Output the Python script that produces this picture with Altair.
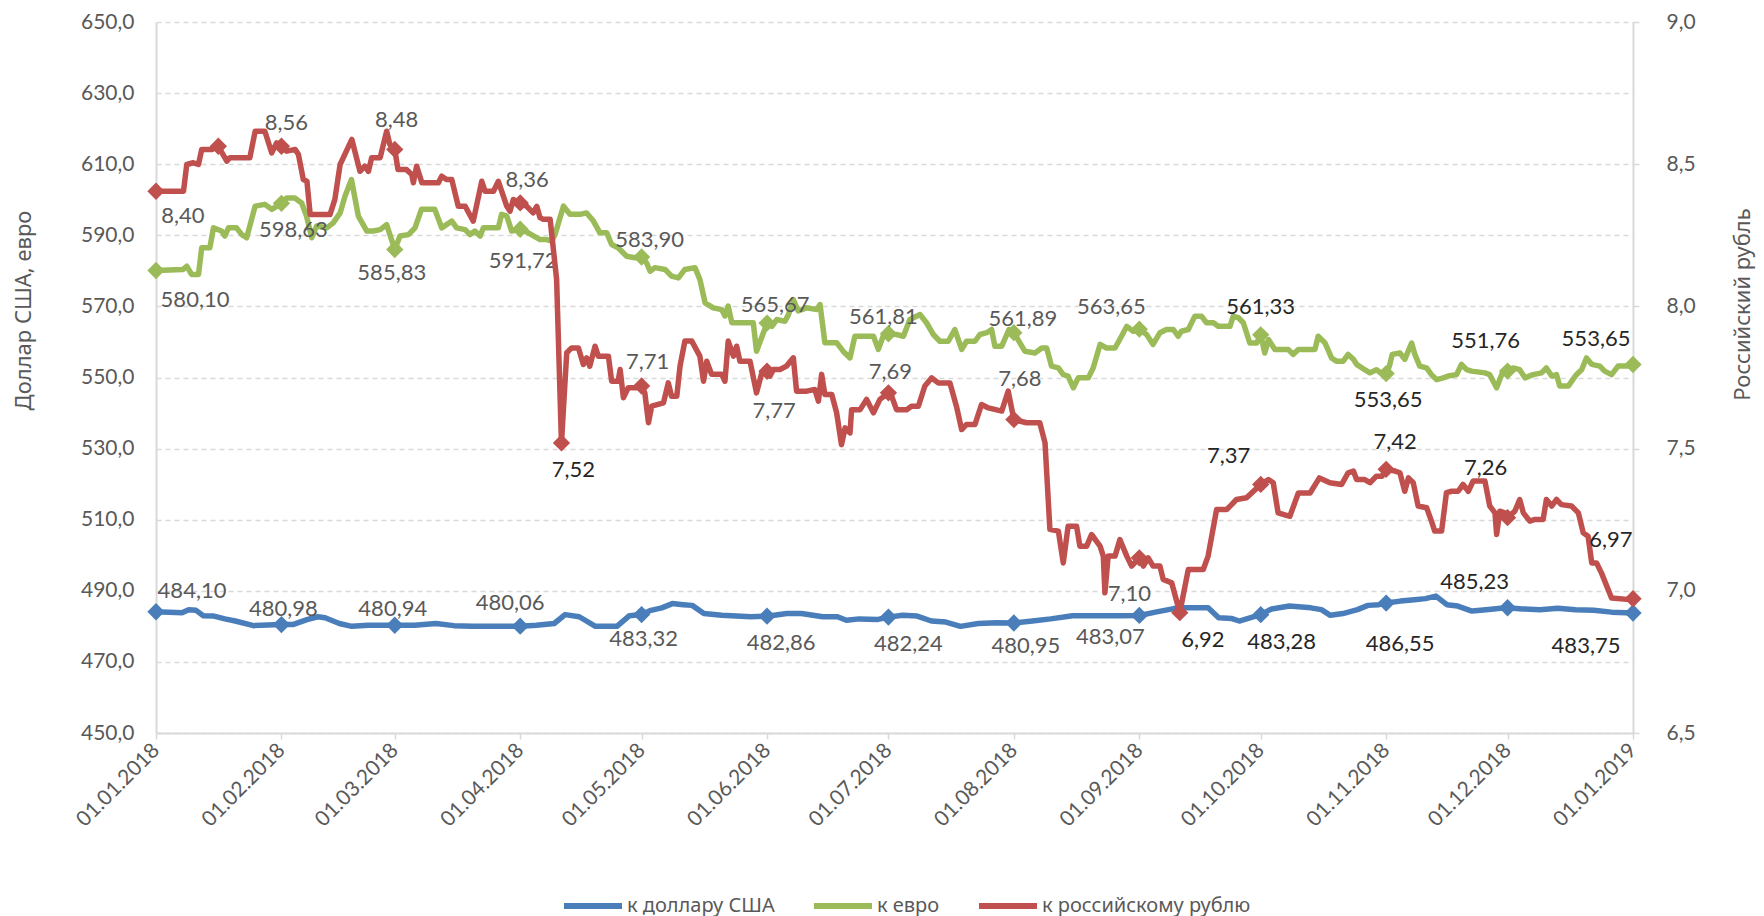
import altair as alt
import pandas as pd

# ---------------- data (day offsets from 01.01.2018) ----------------
series_names = ["к доллару США", "к евро", "к российскому рублю"]

usd_days = [0, 6.4, 8.1, 9.9, 11.7, 14.3, 17.0, 19.6, 24.1, 31, 33.8, 37.3, 40.0, 41.8, 45.3, 48.4, 52.4,
            59, 63.9, 69.2, 73.6, 78.1, 84.3, 90, 94.0, 98.4, 101.1, 104.6, 108.6, 113.9, 117.0, 120,
            122.3, 125.0, 127.6, 130.3, 132.5, 135.4, 139.8, 147.0, 151, 155.9, 159.5, 164.8, 168.4,
            170.6, 173.8, 178.2, 181, 184.5, 188.1, 191.6, 195.2, 198.8, 203.2, 207.7, 212, 216.6,
            221.1, 226.5, 231.8, 238.1, 243, 247.0, 251.5, 254.1, 260.0, 262.6, 265.9, 267.7, 269.5,
            273, 275.7, 280.1, 285.4, 288.0, 290.2, 293.3, 296.9, 299.5, 302.2, 304, 307.5, 311.0,
            313.7, 316.3, 319.0, 321.7, 325.2, 328.7, 332.3, 334, 337.6, 342.0, 346.4, 350.8, 355.3,
            359.7, 365]
usd_vals = [484.1, 483.8, 484.7, 484.5, 483.0, 482.9, 482.1, 481.5, 480.2, 480.5, 480.5, 481.9, 482.7,
            482.4, 480.8, 480.0, 480.3, 480.3, 480.3, 480.8, 480.2, 480.0, 480.0, 480.06, 480.3, 480.8,
            483.3, 482.7, 480.0, 480.0, 483.0, 483.32, 484.5, 485.2, 486.4, 486.1, 485.9, 483.6, 483.1,
            482.7, 482.86, 483.6, 483.6, 482.7, 482.7, 481.7, 482.1, 481.9, 482.6, 483.1, 482.9, 481.5,
            481.2, 480.0, 480.8, 481.0, 480.95, 481.5, 482.1, 483.0, 483.0, 483.0, 483.07, 484.0, 485.0,
            485.2, 485.2, 482.4, 482.2, 481.5, 482.1, 483.28, 484.9, 485.7, 485.2, 484.7, 483.1, 483.6,
            484.7, 485.9, 486.1, 486.55, 487.1, 487.5, 487.8, 488.5, 486.1, 485.7, 484.3, 484.7, 485.1,
            485.23, 484.9, 484.7, 485.1, 484.7, 484.5, 484.0, 483.75]

eur_days = [0, 6.7, 7.6, 8.8, 10.5, 11.3, 13.3, 14.2, 16.2, 17.0, 17.9, 19.9, 21.2, 22.4, 24.5, 26.9,
            28.6, 31, 32.3, 34.3, 36.0, 37.2, 38.5, 39.7, 42.2, 43.8, 45.5, 46.7, 48.3, 50.0, 52.1,
            53.7, 55.4, 57.0, 58.2, 59, 60.3, 62.4, 64.0, 65.6, 68.9, 70.6, 71.8, 73.1, 74.3, 76.4,
            77.6, 78.8, 80.1, 80.9, 84.6, 85.4, 86.7, 87.9, 90, 92.0, 94.9, 96.5, 97.8, 98.6, 100.7,
            102.3, 104.8, 106.4, 108.1, 109.7, 111.4, 112.6, 114.2, 116.3, 118.4, 120, 121.2, 122.1,
            123.3, 125.8, 127.4, 129.1, 130.7, 133.2, 134.4, 135.7, 137.7, 139.8, 140.6, 141.4, 142.3,
            147.6, 148.4, 151, 152.2, 153.4, 155.4, 156.3, 157.5, 158.7, 160.8, 163.3, 164.1, 165.3,
            168.2, 169.8, 171.5, 172.7, 177.3, 178.5, 179.7, 181, 183.0, 184.7, 186.3, 188.8, 190.4,
            192.1, 193.7, 195.8, 197.4, 199.1, 200.3, 202.4, 203.6, 205.3, 206.5, 207.3, 209.0, 210.8,
            212, 214.7, 217.2, 218.9, 220.1, 221.3, 223.0, 224.2, 225.4, 226.7, 227.9, 230.4, 231.6,
            233.3, 234.9, 237.0, 238.6, 239.9, 241.5, 243, 244.8, 246.4, 248.1, 249.7, 251.4, 252.6,
            253.4, 255.1, 256.7, 258.4, 259.6, 261.3, 262.5, 265.4, 266.2, 267.5, 268.7, 270.3, 272.0,
            273, 274.0, 274.9, 276.5, 279.8, 281.0, 282.3, 286.4, 287.2, 288.9, 290.5, 291.7, 293.4,
            294.6, 295.9, 296.7, 298.7, 300.0, 301.6, 303.3, 304, 304.8, 305.5, 307.4, 308.6, 310.3,
            311.1, 312.3, 314.0, 315.2, 316.5, 318.1, 319.3, 321.4, 322.6, 323.9, 325.1, 328.4, 329.6,
            331.3, 332.9, 334, 335.4, 337.0, 338.3, 340.3, 342.4, 343.6, 344.9, 346.1, 346.9, 349.0,
            351.0, 352.3, 353.5, 354.8, 356.8, 358.0, 359.7, 361.3, 364.2, 365]
eur_vals = [580.1, 580.4, 581.3, 579.0, 579.0, 586.5, 586.5, 592.1, 591.2, 589.8, 592.1, 592.1, 590.2,
            589.3, 598.2, 598.7, 597.3, 599.0, 600.5, 600.5, 599.1, 595.4, 589.3, 592.6, 592.1, 593.5,
            596.3, 601.0, 605.7, 595.4, 591.2, 591.2, 591.6, 593.0, 588.8, 586.0, 589.8, 590.2, 592.1,
            597.3, 597.3, 592.1, 593.0, 594.0, 592.1, 591.6, 590.2, 591.2, 589.8, 592.1, 592.1, 595.9,
            595.4, 591.2, 591.7, 590.7, 588.8, 588.8, 588.4, 590.2, 598.2, 595.9, 595.9, 596.3, 594.0,
            590.7, 590.7, 587.4, 586.5, 584.1, 583.7, 583.9, 582.3, 579.9, 580.9, 580.4, 578.5, 578.0,
            580.4, 580.9, 577.6, 571.0, 569.6, 569.1, 567.3, 570.1, 565.4, 565.4, 557.4, 565.3, 564.4,
            566.3, 565.8, 567.7, 571.9, 568.7, 569.6, 569.1, 570.5, 559.8, 559.8, 557.4, 555.5, 561.6,
            561.6, 557.9, 561.6, 562.3, 562.1, 561.6, 566.3, 567.7, 565.4, 562.1, 560.2, 560.2, 563.5,
            557.9, 560.2, 560.2, 562.1, 562.6, 563.5, 558.8, 558.8, 563.5, 562.6, 557.4, 556.9, 558.3,
            558.3, 553.2, 552.7, 550.8, 550.4, 547.1, 549.9, 549.9, 552.7, 559.3, 558.3, 558.3, 561.6,
            564.4, 563.0, 563.6, 562.1, 559.3, 562.6, 563.5, 563.5, 561.6, 563.0, 563.5, 567.2, 567.2,
            565.4, 565.4, 564.4, 564.4, 567.2, 566.8, 565.4, 559.7, 559.7, 562.0, 556.9, 560.7, 557.9,
            557.9, 556.5, 557.9, 557.9, 561.6, 559.7, 555.5, 554.6, 554.6, 556.5, 555.1, 553.7, 552.2,
            551.3, 552.2, 550.8, 551.1, 553.2, 556.5, 556.9, 555.1, 559.7, 556.5, 553.2, 552.7, 550.8,
            549.4, 549.9, 550.4, 550.8, 553.7, 552.2, 551.8, 551.3, 550.8, 547.1, 551.8, 551.8, 552.7,
            552.2, 549.9, 550.8, 551.3, 552.7, 550.4, 550.8, 547.6, 547.6, 550.8, 552.2, 555.5, 553.7,
            553.2, 551.8, 550.8, 553.2, 553.2, 553.65]

rub_days = [0, 6.8, 7.6, 9.2, 10.5, 11.3, 13.8, 15.4, 17.5, 18.3, 23.2, 24.5, 26.9, 28.6, 29.8, 31,
            32.3, 34.4, 35.2, 36.4, 37.3, 38.1, 43.0, 44.2, 45.5, 48.4, 50.4, 51.6, 52.5, 53.3, 55.4,
            57.0, 57.8, 59, 59.8, 61.9, 63.2, 63.6, 64.4, 65.7, 69.8, 70.6, 71.8, 73.1, 74.7, 76.4,
            78.4, 80.5, 81.3, 83.4, 84.6, 86.7, 87.5, 88.3, 90, 91.6, 93.2, 94.1, 94.9, 95.7, 97.4,
            99.0, 100.2, 101.5, 102.7, 104.4, 105.6, 106.4, 107.2, 108.5, 109.3, 111.8, 112.6, 114.2,
            114.7, 115.5, 116.7, 118.8, 120, 120.8, 121.7, 122.5, 125.4, 126.6, 127.4, 128.7, 129.5,
            130.7, 132.4, 134.4, 135.3, 136.1, 137.3, 139.8, 140.6, 141.4, 142.7, 143.5, 144.3, 146.8,
            148.4, 149.7, 151, 151.7, 152.6, 154.2, 155.8, 157.5, 158.3, 160.8, 162.8, 163.7, 164.5,
            165.3, 167.0, 168.2, 169.4, 170.3, 171.5, 171.9, 174.0, 175.6, 177.3, 178.9, 181, 181.8,
            183.0, 185.5, 186.7, 188.4, 190.0, 191.7, 193.3, 196.2, 197.8, 199.1, 200.3, 202.4, 204.0,
            205.7, 209.0, 210.6, 212, 215.1, 218.4, 219.7, 220.9, 223.0, 224.2, 225.4, 227.5, 228.3,
            230.0, 231.2, 233.3, 234.1, 234.5, 235.3, 237.0, 238.2, 239.9, 241.1, 243, 244.0, 245.2,
            246.4, 248.1, 248.9, 251.0, 253, 255.1, 258.8, 260.0, 262.1, 264.6, 265.8, 267.0, 269.5,
            273, 274.9, 276.1, 277.3, 280.2, 282.3, 285.2, 287.5, 290.1, 293.0, 294.6, 295.9, 296.7,
            298.7, 300.0, 301.6, 303.0, 304, 306.2, 307.4, 308.6, 309.5, 310.7, 311.9, 314.0, 315.2,
            316.0, 317.7, 318.9, 320.2, 321.8, 323.0, 324.3, 325.5, 328.4, 329.6, 330.9, 331.3, 332.1,
            333.3, 334, 335.8, 337.0, 337.9, 339.5, 340.8, 342.8, 343.6, 344.9, 346.1, 347.3, 349.8,
            351.5, 352.7, 353.9, 354.8, 356.0, 357.2, 359.7, 364.2, 365]
rub_vals = [8.405, 8.405, 8.499, 8.505, 8.499, 8.552, 8.552, 8.563, 8.511, 8.523, 8.523, 8.616, 8.616,
            8.540, 8.575, 8.563, 8.546, 8.552, 8.534, 8.446, 8.440, 8.323, 8.323, 8.376, 8.499, 8.587,
            8.475, 8.493, 8.475, 8.523, 8.523, 8.616, 8.569, 8.552, 8.481, 8.481, 8.464, 8.435, 8.493,
            8.435, 8.435, 8.458, 8.446, 8.446, 8.352, 8.352, 8.300, 8.440, 8.405, 8.405, 8.440, 8.352,
            8.335, 8.376, 8.364, 8.352, 8.329, 8.352, 8.312, 8.306, 8.306, 8.095, 7.520, 7.837, 7.854,
            7.854, 7.796, 7.819, 7.790, 7.860, 7.825, 7.825, 7.737, 7.737, 7.778, 7.679, 7.714, 7.714,
            7.720, 7.696, 7.591, 7.649, 7.661, 7.731, 7.684, 7.684, 7.790, 7.878, 7.878, 7.825, 7.737,
            7.807, 7.761, 7.761, 7.737, 7.878, 7.825, 7.860, 7.807, 7.807, 7.696, 7.766, 7.772, 7.755,
            7.778, 7.778, 7.790, 7.819, 7.702, 7.702, 7.708, 7.667, 7.761, 7.690, 7.690, 7.626, 7.514,
            7.573, 7.555, 7.637, 7.637, 7.673, 7.626, 7.673, 7.696, 7.684, 7.637, 7.637, 7.649, 7.649,
            7.720, 7.749, 7.731, 7.731, 7.649, 7.567, 7.585, 7.585, 7.655, 7.643, 7.632, 7.702, 7.602,
            7.591, 7.591, 7.520, 7.216, 7.210, 7.098, 7.227, 7.227, 7.157, 7.157, 7.198, 7.157, 7.122,
            6.993, 7.122, 7.122, 7.180, 7.122, 7.087, 7.116, 7.087, 7.116, 7.087, 7.087, 7.040, 7.028,
            6.923, 7.075, 7.075, 7.122, 7.286, 7.286, 7.303, 7.321, 7.327, 7.374, 7.391, 7.380, 7.274,
            7.262, 7.344, 7.344, 7.397, 7.380, 7.374, 7.415, 7.421, 7.391, 7.391, 7.380, 7.403, 7.403,
            7.427, 7.421, 7.415, 7.350, 7.397, 7.380, 7.298, 7.292, 7.245, 7.210, 7.210, 7.345, 7.350,
            7.350, 7.374, 7.350, 7.386, 7.386, 7.298, 7.274, 7.198, 7.280, 7.274, 7.257, 7.280, 7.321,
            7.274, 7.245, 7.251, 7.251, 7.321, 7.298, 7.321, 7.303, 7.298, 7.274, 7.204, 7.192, 7.098,
            7.098, 7.063, 6.975, 6.969, 6.972]

month_days = [0, 31, 59, 90, 120, 151, 181, 212, 243, 273, 304, 334, 365]
usd_marker_labels = ["484,10", "480,98", "480,94", "480,06", "483,32", "482,86", "482,24", "480,95",
                     "483,07", "483,28", "486,55", "485,23", "483,75"]
eur_marker_labels = ["580,10", "598,63", "585,83", "591,72", "583,90", "565,67", "561,81", "561,89",
                     "563,65", "561,33", "553,65", "551,76", "553,65"]
rub_marker_days = [0, 15.4, 31, 59, 90, 100.2, 120, 151, 181, 212, 243, 253, 273, 304, 334, 365]
rub_marker_labels = ["8,40", "", "8,56", "8,48", "8,36", "7,52", "7,71", "7,77", "7,69", "7,68",
                     "7,10", "6,92", "7,37", "7,42", "7,26", "6,97"]

left_ticks = [450, 470, 490, 510, 530, 550, 570, 590, 610, 630, 650]
right_ticks = [6.5, 7.0, 7.5, 8.0, 8.5, 9.0]

# ---------------- styles ----------------
colors = ["#4a7ebb", "#9bbb59", "#c0504d"]
usd_offsets = [(36, -21), (2, -16), (-2, -16), (-10, -23), (2, 24), (14, 27), (20, 27), (12, 23),
               (-29, 22), (21, 27), (14, 41), (-33, -26), (-47, 33)]
eur_offsets = [(39, 30), (12, 27), (-3, 23), (3, 32), (8, -17), (8, -18), (-5, -17), (9, -14),
               (-28, -22), (0, -28), (2, 26), (-22, -30), (-37, -26)]
rub_offsets = [(27, 25), (0, 0), (5, -23), (2, -29), (7, -23), (12, 27), (6, -24), (7, 40), (2, -21),
               (6, -41), (-10, 36), (23, 27), (-32, -28), (9, -27), (-22, -50), (-22, -59)]
usd_dark = [9, 10, 11, 12]
eur_dark = [9, 10, 11, 12]
rub_dark = [5, 11, 12, 13, 14, 15]
GREY = "#595959"
DARK = "#262626"
NUM_FONT = "Lato"
TXT_FONT = "Noto Sans"

W, H = 1477, 711

# ---------------- tables ----------------
def sdf(days, vals, name):
    return pd.DataFrame({"day": days, "value": vals, "series": name})

left_df = pd.concat([sdf(usd_days, usd_vals, series_names[0]),
                     sdf(eur_days, eur_vals, series_names[1])], ignore_index=True)
rub_df = sdf(rub_days, rub_vals, series_names[2])


def marker_df(days, vals, mdays, labels, color):
    lookup = dict(zip(days, vals))
    return pd.DataFrame({"day": mdays, "value": [lookup[d] for d in mdays],
                         "label": labels, "hex": color, "k": list(range(len(mdays)))})

usd_m = marker_df(usd_days, usd_vals, month_days, usd_marker_labels, colors[0])
eur_m = marker_df(eur_days, eur_vals, month_days, eur_marker_labels, colors[1])
rub_m = marker_df(rub_days, rub_vals, rub_marker_days, rub_marker_labels, colors[2])

# ---------------- encodings ----------------
x_scale = alt.Scale(domain=[0, 365], nice=False, zero=False)
x_axis = alt.Axis(values=month_days, title=None, grid=False,
                  labelExpr="timeFormat(datetime(2018, 0, 1 + datum.value), '%d.%m.%Y')",
                  labelAngle=-45, labelAlign="right", labelBaseline="middle",
                  labelFont=NUM_FONT, labelFontSize=21, labelColor=GREY, labelPadding=8,
                  ticks=True, tickSize=6, tickColor="#d9d9d9", tickWidth=1.5,
                  domainColor="#d9d9d9", domainWidth=2)
left_scale = alt.Scale(domain=[450, 650], nice=False, zero=False)
right_scale = alt.Scale(domain=[6.5, 9.0], nice=False, zero=False)
left_axis = alt.Axis(values=left_ticks, title="Доллар США, евро",
                     labelExpr="replace(format(datum.value, '.1f'), '.', ',')",
                     labelFont=NUM_FONT, labelFontSize=21, labelColor=GREY, labelPadding=22,
                     ticks=False, domainColor="#d9d9d9", domainWidth=2,
                     grid=True, gridColor="#d9d9d9", gridDash=[5, 4], gridWidth=1.3,
                     titleFont=TXT_FONT, titleFontSize=22, titleFontWeight="normal", titleColor=GREY,
                     titleAngle=270, titleAlign="center", titleBaseline="middle",
                     titleX=-133, titleY=288)
right_axis = alt.Axis(values=right_ticks, title="Российский рубль", orient="right",
                      labelExpr="replace(format(datum.value, '.1f'), '.', ',')",
                      labelFont=NUM_FONT, labelFontSize=21, labelColor=GREY, labelPadding=27,
                      ticks=True, tickSize=6, tickColor="#d9d9d9", tickWidth=1.5,
                      domainColor="#d9d9d9", domainWidth=2, grid=False,
                      titleFont=TXT_FONT, titleFontSize=22, titleFontWeight="normal", titleColor=GREY,
                      titleAngle=270, titleAlign="center", titleBaseline="middle",
                      titleX=109, titleY=282)

color_scale = alt.Scale(domain=series_names, range=colors)
legend = alt.Legend(title=None, orient="none", legendX=405, legendY=852, direction="horizontal",
                    symbolType="stroke", symbolSize=3364, symbolStrokeWidth=6,
                    labelFont=TXT_FONT, labelFontSize=20, labelColor=GREY, labelOffset=2,
                    labelLimit=600, columnPadding=27)


def line_layer(df, yscale, yaxis):
    return alt.Chart(df).mark_line(strokeWidth=5.5, strokeJoin="round", strokeCap="round").encode(
        x=alt.X("day:Q", scale=x_scale, axis=x_axis),
        y=alt.Y("value:Q", scale=yscale, axis=yaxis),
        color=alt.Color("series:N", scale=color_scale, legend=legend),
    )


def marker_layer(mdf, yscale, yaxis):
    return alt.Chart(mdf).mark_point(shape="diamond", filled=True, size=300, opacity=1).encode(
        x=alt.X("day:Q", scale=x_scale, axis=x_axis),
        y=alt.Y("value:Q", scale=yscale, axis=yaxis),
        fill=alt.Fill("hex:N", scale=None),
    )


def label_layers(mdf, yscale, yaxis, offsets, dark):
    out = []
    for i, lab in enumerate(mdf["label"]):
        if not lab:
            continue
        dx, dy = offsets[i]
        out.append(
            alt.Chart(mdf).transform_filter(alt.datum.k == i).mark_text(
                dx=dx, dy=dy, font=NUM_FONT, fontSize=22, align="center", baseline="middle",
                color=DARK if i in dark else GREY).encode(
                x=alt.X("day:Q", scale=x_scale, axis=x_axis),
                y=alt.Y("value:Q", scale=yscale, axis=yaxis),
                text="label:N")
        )
    return out


left = alt.layer(
    line_layer(left_df, left_scale, left_axis),
    marker_layer(pd.concat([usd_m, eur_m], ignore_index=True), left_scale, left_axis),
    *label_layers(usd_m, left_scale, left_axis, usd_offsets, usd_dark),
    *label_layers(eur_m, left_scale, left_axis, eur_offsets, eur_dark),
)
right = alt.layer(
    line_layer(rub_df, right_scale, right_axis),
    marker_layer(rub_m, right_scale, right_axis),
    *label_layers(rub_m, right_scale, right_axis, rub_offsets, rub_dark),
)

chart = alt.layer(left, right).resolve_scale(y="independent").properties(
    width=W, height=H,
    padding={"left": 148, "top": 14, "right": 123, "bottom": 186},
    autosize=alt.AutoSizeParams(type="none"),
).configure_view(stroke=None)

chart.save("out.html", embed_options={"renderer": "svg", "actions": False})
